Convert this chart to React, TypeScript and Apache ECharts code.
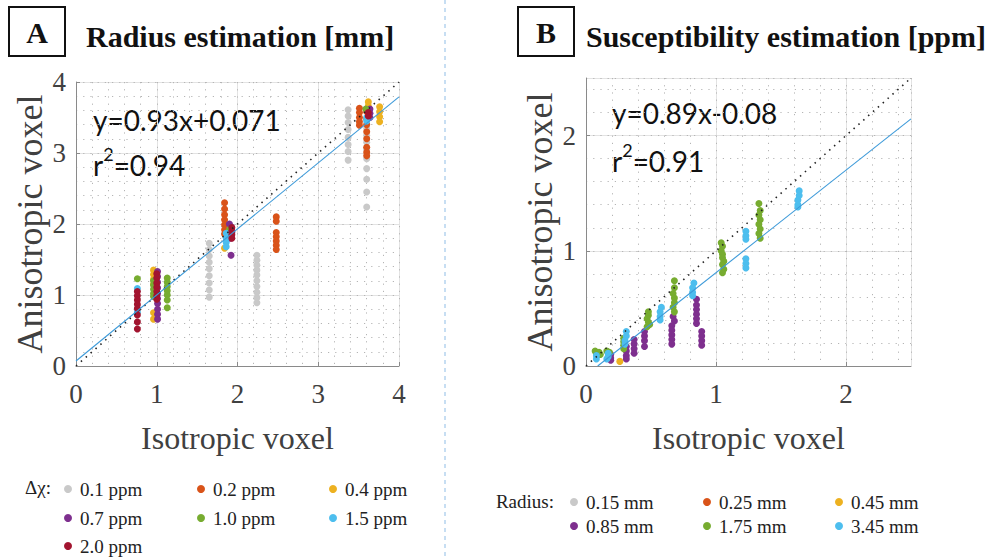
import React, { useEffect, useRef } from "react";
import * as echarts from "echarts";

const SERIF = "'Liberation Serif', 'Times New Roman', serif";
const SANS = "Lato, 'Open Sans', sans-serif";

const COLORS = ["#c9c9c9", "#d95319", "#edb120", "#7e2f8e", "#77ac30", "#4dbeee", "#a2142f"];

const legendLabelsA = ["0.1 ppm", "0.2 ppm", "0.4 ppm", "0.7 ppm", "1.0 ppm", "1.5 ppm", "2.0 ppm"];
const legendLabelsB = ["0.15 mm", "0.25 mm", "0.45 mm", "0.85 mm", "1.75 mm", "3.45 mm"];

const ticksA = { min: 0, max: 4, major: 1, minor: 0.2, showMax: true };
const ticksB = { min: 0, max: 2.5, major: 1, minor: 0.2, showMax: false };

// Panel A: radius estimation [mm], one array per Δχ
const a_01 = [
  [1.65, 1.73], [1.65, 1.64], [1.65, 1.55], [1.65, 1.46], [1.65, 1.37], [1.65, 1.27], [1.65, 1.17], [1.65, 1.07], [1.65, 0.97],
  [2.24, 1.56], [2.24, 1.49], [2.24, 1.42], [2.24, 1.35], [2.24, 1.28], [2.24, 1.2], [2.24, 1.12], [2.24, 1.04], [2.24, 0.96], [2.24, 0.89],
  [3.37, 3.61], [3.37, 3.52], [3.37, 3.43], [3.37, 3.33], [3.37, 3.22], [3.37, 3.12], [3.37, 3.02], [3.37, 2.9],
  [3.6, 3.35], [3.6, 3.25], [3.6, 3.15], [3.6, 3.05], [3.6, 2.92], [3.6, 2.78], [3.6, 2.63], [3.6, 2.45], [3.6, 2.24],
];
const a_02 = [
  [1.84, 2.3], [1.84, 2.21], [1.84, 2.13], [1.84, 2.06], [1.84, 1.99], [1.84, 1.92], [1.84, 1.86],
  [2.48, 2.1], [2.48, 2.04], [2.48, 1.88], [2.48, 1.82], [2.48, 1.76], [2.48, 1.7], [2.48, 1.64],
  [3.51, 3.63], [3.51, 3.57], [3.51, 3.5], [3.51, 3.44], [3.51, 3.39],
  [3.6, 3.58], [3.6, 3.48], [3.6, 3.4], [3.6, 3.3], [3.6, 3.2], [3.6, 3.08], [3.6, 3.01], [3.6, 2.96],
];
const a_04 = [
  [0.96, 1.35], [0.96, 1.29], [0.96, 1.22], [0.96, 1.15], [0.96, 0.75], [0.96, 0.66],
  [1.84, 1.66],
  [3.62, 3.72], [3.62, 3.66],
  [3.76, 3.65], [3.76, 3.58], [3.76, 3.51], [3.76, 3.44],
];
const a_07 = [
  [1.01, 1.33], [1.01, 1.26], [1.01, 1.18], [1.01, 1.1], [1.01, 1.02], [1.01, 0.95], [1.01, 0.88], [1.01, 0.8], [1.01, 0.73], [1.01, 0.66],
  [1.9, 2.0], [1.92, 1.96], [1.93, 1.88], [1.91, 1.8], [1.92, 1.56],
  [3.64, 3.62], [3.64, 3.56], [3.64, 3.5],
];
const a_10 = [
  [0.76, 1.23],
  [0.96, 1.2], [0.96, 1.14], [0.96, 1.08], [0.96, 1.02], [0.96, 0.98],
  [1.13, 1.24], [1.13, 1.18], [1.13, 1.12], [1.13, 1.06], [1.13, 1.0], [1.13, 0.93], [1.13, 0.82],
  [1.9, 1.92],
  [3.59, 3.62],
];
const a_15 = [
  [0.76, 1.09], [0.76, 0.76],
  [1.86, 1.87], [1.86, 1.8], [1.86, 1.74], [1.86, 1.68],
  [3.6, 3.5], [3.6, 3.45],
];
const a_20 = [
  [0.76, 1.05], [0.76, 0.99], [0.76, 0.93], [0.76, 0.87], [0.76, 0.81], [0.76, 0.72], [0.76, 0.62], [0.76, 0.52],
  [1.0, 1.3], [1.0, 1.24], [1.0, 1.17], [1.0, 1.11], [1.0, 1.05], [1.0, 0.99], [1.0, 0.94],
  [1.93, 1.95], [1.93, 1.9], [1.93, 1.85], [1.93, 1.8],
  [3.62, 3.57], [3.62, 3.52],
];
const seriesA = [a_01, a_02, a_04, a_07, a_10, a_15, a_20];

// Panel B: susceptibility estimation [ppm], one array per radius
const b_015: number[][] = [];
const b_025: number[][] = [];
const b_045 = [[0.26, 0.04]];
const b_085 = [
  [0.19, 0.1], [0.19, 0.07], [0.19, 0.05],
  [0.31, 0.17], [0.31, 0.13], [0.31, 0.09], [0.31, 0.06],
  [0.37, 0.23], [0.37, 0.19], [0.37, 0.15], [0.37, 0.11],
  [0.45, 0.3], [0.45, 0.26], [0.45, 0.22], [0.45, 0.17],
  [0.67, 0.43], [0.68, 0.39], [0.66, 0.35], [0.66, 0.31], [0.66, 0.27], [0.66, 0.23], [0.66, 0.19],
  [0.85, 0.58], [0.85, 0.53], [0.85, 0.49], [0.85, 0.45], [0.85, 0.41], [0.85, 0.37],
  [0.89, 0.3], [0.89, 0.26], [0.89, 0.22], [0.89, 0.18],
];
const b_175 = [
  [0.07, 0.13], [0.08, 0.11], [0.1, 0.12], [0.11, 0.1], [0.16, 0.13], [0.18, 0.12],
  [0.29, 0.24], [0.29, 0.21], [0.29, 0.18], [0.29, 0.15],
  [0.48, 0.47], [0.48, 0.44], [0.47, 0.41], [0.48, 0.38], [0.49, 0.36], [0.47, 0.34],
  [0.68, 0.74], [0.68, 0.68], [0.67, 0.63], [0.68, 0.59], [0.68, 0.55], [0.67, 0.51], [0.68, 0.47],
  [1.04, 1.07], [1.05, 1.04], [1.04, 1.0], [1.05, 0.97], [1.05, 0.94], [1.06, 0.91], [1.05, 0.88], [1.06, 0.84], [1.05, 0.81],
  [1.33, 1.41], [1.34, 1.35], [1.33, 1.31], [1.34, 1.27], [1.33, 1.23], [1.34, 1.19], [1.33, 1.15], [1.34, 1.11],
];
const b_345 = [
  [0.08, 0.09], [0.08, 0.06], [0.17, 0.11], [0.17, 0.08], [0.16, 0.06],
  [0.31, 0.3], [0.31, 0.26], [0.3, 0.22], [0.3, 0.19],
  [0.58, 0.51], [0.57, 0.47], [0.57, 0.43], [0.57, 0.4],
  [0.83, 0.72], [0.82, 0.68], [0.82, 0.64], [0.82, 0.61],
  [1.23, 1.17], [1.23, 1.13], [1.23, 1.1], [1.23, 0.93], [1.23, 0.89], [1.23, 0.85],
  [1.64, 1.52], [1.64, 1.48], [1.63, 1.44], [1.63, 1.4], [1.63, 1.38],
];
const seriesB = [b_015, b_025, b_045, b_085, b_175, b_345];

// identity and regression lines (from the fitted equations)
const identityA = [[0, 0], [4, 4]];
const fitA = [[0, 0.071], [4, 3.791]];
const identityB = [[0, 0], [2.5, 2.5]];
const fitB = [[0.09, 0], [2.5, 2.145]];

const eqA = ["y=0.93x+0.071", "0.94"];
const eqB = ["y=0.89x-0.08", "0.91"];

function makeAxes(gridIndex: number, t: typeof ticksA, isX: boolean) {
  const main: any = {
    type: "value",
    gridIndex,
    min: t.min,
    max: t.max,
    interval: t.major,
    name: isX ? "Isotropic voxel" : "Anisotropic voxel",
    nameLocation: "middle",
    nameGap: isX ? 56 : 28,
    nameMoveOverlap: false,
    nameTextStyle: { fontFamily: SERIF, fontSize: isX ? 32 : 36, color: "#404040" },
    axisLine: { show: true, onZero: false, lineStyle: { color: "#8a8a8a", width: 1 } },
    axisTick: { show: true, inside: true, length: 4, lineStyle: { color: "#8a8a8a" } },
    axisLabel: { fontFamily: SERIF, fontSize: 27, color: "#404040", margin: isX ? 14 : 10, showMaxLabel: t.showMax },
    splitLine: { show: true, lineStyle: { color: "#e3e3e3", width: 1 } },
  };
  const minor: any = {
    type: "value",
    gridIndex,
    min: t.min,
    max: t.max,
    interval: t.minor,
    axisLine: { show: false },
    axisTick: { show: false },
    axisLabel: { show: false },
    splitLine: { show: true, lineStyle: { color: "#b5b5b5", width: 1, type: [1.2, 6] } },
  };
  return [main, minor];
}

function legendGraphics(labels: string[], title: string, titleX: number, titleY: number, titleAlign: string, cols: number[], rows: number[]) {
  const els: any[] = [
    {
      type: "text",
      x: titleX,
      y: titleY,
      style: { text: title, font: `19px ${SERIF}`, fill: "#222", align: titleAlign, textAlign: titleAlign, verticalAlign: "middle", textVerticalAlign: "middle" },
    },
  ];
  labels.forEach((lab, i) => {
    const cx = cols[i % 3];
    const cy = rows[Math.floor(i / 3)];
    els.push({ type: "circle", shape: { cx, cy, r: 4 }, style: { fill: COLORS[i] } });
    els.push({
      type: "text",
      x: cx + 12,
      y: cy,
      style: { text: lab, font: `19px ${SERIF}`, fill: "#222", align: "left", textAlign: "left", verticalAlign: "middle", textVerticalAlign: "middle" },
    });
  });
  return els;
}

function eqGraphics(eq: string[], x: number, y1: number, y2: number) {
  return [
    {
      type: "text",
      x,
      y: y1,
      style: { text: eq[0], font: `28px ${SANS}`, fill: "#111", align: "left", textAlign: "left", verticalAlign: "middle", textVerticalAlign: "middle" },
    },
    {
      type: "text",
      x,
      y: y2,
      style: {
        text: `{m|r}{s|2}{m|=${eq[1]}}`,
        align: "left",
        textAlign: "left",
        verticalAlign: "middle",
        textVerticalAlign: "middle",
        rich: {
          m: { fontFamily: SANS, fontSize: 28, fill: "#111", color: "#111", lineHeight: 34, verticalAlign: "bottom" },
          s: { fontFamily: SANS, fontSize: 18, fill: "#111", color: "#111", lineHeight: 20, verticalAlign: "top" },
        },
      },
    },
  ];
}

function boxGraphics(letter: string, x: number, title: string, tx: number) {
  return [
    { type: "rect", shape: { x, y: 7, width: 56, height: 49 }, style: { fill: "#fff", stroke: "#111", lineWidth: 2 } },
    {
      type: "text",
      x: x + 28,
      y: 32,
      style: { text: letter, font: `bold 30px ${SERIF}`, fill: "#111", align: "center", textAlign: "center", verticalAlign: "middle", textVerticalAlign: "middle" },
    },
    {
      type: "text",
      x: tx,
      y: 36,
      style: { text: title, font: `bold 30px ${SERIF}`, fill: "#111", align: "left", textAlign: "left", verticalAlign: "middle", textVerticalAlign: "middle" },
    },
  ];
}

export default function App() {
  const ref = useRef<HTMLDivElement>(null);

  useEffect(() => {
    if (!ref.current) return;
    const chart = echarts.init(ref.current, undefined, { renderer: "svg" });

    const [xA, xAm] = makeAxes(0, ticksA, true);
    const [xB, xBm] = makeAxes(1, ticksB, true);
    const [yA, yAm] = makeAxes(0, ticksA, false);
    const [yB, yBm] = makeAxes(1, ticksB, false);

    const scatter = (data: number[][], name: string, color: string, axis: number) => ({
      type: "scatter",
      name,
      data,
      xAxisIndex: axis,
      yAxisIndex: axis,
      symbol: "circle",
      symbolSize: 7,
      itemStyle: { color, opacity: 1 },
      z: 3,
    });
    const line = (data: number[][], axis: number, dotted: boolean) => ({
      type: "line",
      data,
      xAxisIndex: axis,
      yAxisIndex: axis,
      symbol: "none",
      showSymbol: false,
      silent: true,
      z: 5,
      lineStyle: dotted ? { color: "#222", width: 1.6, type: [1.5, 5] } : { color: "#3d9ad9", width: 1.1 },
    });

    const series: any[] = [];
    seriesA.forEach((d, i) => series.push(scatter(d, legendLabelsA[i], COLORS[i], 0)));
    seriesB.forEach((d, i) => series.push(scatter(d, legendLabelsB[i], COLORS[i], 1)));
    series.push(line(identityA, 0, true), line(fitA, 0, false), line(identityB, 1, true), line(fitB, 1, false));

    const graphics: any[] = [
      { type: "line", shape: { x1: 445, y1: 0, x2: 445, y2: 558 }, style: { stroke: "#8fbde6", lineWidth: 1, lineDash: [4, 4] } },
      ...boxGraphics("A", 9, "Radius estimation [mm]", 86),
      ...boxGraphics("B", 518, "Susceptibility estimation [ppm]", 586),
      ...eqGraphics(eqA, 93, 120, 162),
      ...eqGraphics(eqB, 612, 113, 158),
      ...legendGraphics(legendLabelsA, "Δχ:", 25, 487, "left", [68, 201, 333], [489, 518, 546]),
      ...legendGraphics(legendLabelsB, "Radius:", 554, 501, "right", [574, 707, 839], [502, 526]),
    ];

    chart.setOption({
      animation: false,
      backgroundColor: "#ffffff",
      grid: [
        { left: 76, top: 82, width: 323, height: 284 },
        { left: 586, top: 78, width: 325, height: 288 },
      ],
      xAxis: [xA, xB, xAm, xBm],
      yAxis: [yA, yB, yAm, yBm],
      series,
      graphic: graphics,
    });

    return () => chart.dispose();
  }, []);

  return <div ref={ref} style={{ position: "absolute", left: 0, top: 0, width: 996, height: 558 }} />;
}
